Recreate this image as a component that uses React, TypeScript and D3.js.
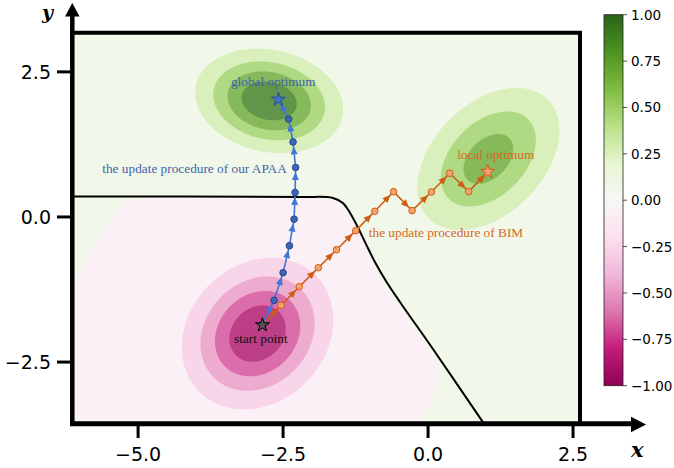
import React, { useRef, useEffect } from 'react';
import * as d3 from 'd3';

const W = 674;
const H = 468;

// gaussian bumps of the loss surface (data units)
const blobCx = [-2.74, 1.04, -2.94];
const blobCy = [2.0, 1.0, -2.01];
const blobAmp = [1.0, 0.7, -1.0];
const blobSigMajor = [0.72, 0.915, 0.79];
const blobSigMinor = [0.49, 0.6, 0.66];
const blobAngle = [-12, 45, 45];

const bandLevels = [0.2, 0.4, 0.6, 0.8];
const bandMids = [0.3, 0.5, 0.7, 0.9];

// the wide, faint negative region around the start point
const pinkX = [-6.35, -6.09, -5.78, -5.48, -5.19, -4.85, -1.69, -1.52, -1.38, -1.24, -1.07, -0.79, -0.48, -0.21, 0.03, 0.14, 0.155, 0.07, -0.14, -0.26, -6.35];
const pinkY = [-1.43, -1.09, -0.52, -0.05, 0.26, 0.31, 0.29, 0.22, 0.09, -0.16, -0.5, -1.12, -1.55, -1.95, -2.29, -2.5, -2.81, -3.16, -3.47, -3.67, -3.67];

// decision boundary
const boundX = [-6.3, -2.2, -1.64, -1.47, -1.345, -1.207, -1.074, -0.919, -0.729, -0.488, 0.081, 0.943, 1.2];
const boundY = [0.353, 0.345, 0.328, 0.241, 0.069, -0.185, -0.46, -0.771, -1.098, -1.46, -2.27, -3.53, -3.89];

// update trajectories
const apaaX = [-2.857, -2.655, -2.5, -2.391, -2.31, -2.293, -2.284, -2.328, -2.405, -2.581];
const apaaY = [-1.862, -1.436, -0.96, -0.495, -0.038, 0.422, 0.853, 1.293, 1.686, 2.026];
const bimX = [-2.857, -2.534, -2.221, -1.893, -1.578, -1.247, -0.919, -0.595, -0.276, 0.057, 0.374, 0.702, 1.029];
const bimY = [-1.862, -1.522, -1.202, -0.874, -0.564, -0.236, 0.098, 0.436, 0.109, 0.431, 0.753, 0.436, 0.781];

const xTicks = [-5.0, -2.5, 0.0, 2.5];
const yTicks = [-2.5, 0.0, 2.5];
const cbTicks = [-1, -0.75, -0.5, -0.25, 0, 0.25, 0.5, 0.75, 1];

const BLUE_LINE = "#4176d6";
const BLUE_DOT = "#3d65b8";
const BLUE_EDGE = "#27458a";
const BLUE_TEXT = "#4262ad";
const ORANGE_LINE = "#cf5c14";
const ORANGE_DOT = "#f2a470";
const ORANGE_TEXT = "#d2691e";

function bump(i, x, y) {
    const t = blobAngle[i] * Math.PI / 180;
    const dx = x - blobCx[i], dy = y - blobCy[i];
    const u = dx * Math.cos(t) + dy * Math.sin(t);
    const v = -dx * Math.sin(t) + dy * Math.cos(t);
    return blobAmp[i] * Math.exp(-0.5 * (u * u / (blobSigMajor[i] ** 2) + v * v / (blobSigMinor[i] ** 2)));
}

function App() {
    const svgRef = useRef(null);

    useEffect(() => {
        const svg = d3.select(svgRef.current);
        svg.selectAll("*").remove();

        const x = d3.scaleLinear().domain([-6.14, 2.62]).range([72, 580]);
        const y = d3.scaleLinear().domain([-3.55, 3.17]).range([423, 33]);

        const piyg = d3.scaleLinear()
            .domain(d3.range(11).map(i => -1 + i * 0.2))
            .range(d3.schemePiYG[11]);
        const fillAt = v => d3.interpolateRgb("#ffffff", piyg(v))(0.8);

        const defs = svg.append("defs");
        defs.append("clipPath").attr("id", "plotclip")
            .append("rect").attr("x", 72).attr("y", 33).attr("width", 508).attr("height", 390);

        const plot = svg.append("g").attr("clip-path", "url(#plotclip)");
        plot.append("rect").attr("x", 72).attr("y", 33).attr("width", 508).attr("height", 390)
            .attr("fill", fillAt(0.1));

        const closedLine = d3.line().x(d => x(d[0])).y(d => y(d[1])).curve(d3.curveCatmullRomClosed.alpha(0.5));
        plot.append("path")
            .attr("d", closedLine(pinkX.map((v, i) => [v, pinkY[i]])))
            .attr("fill", fillAt(-0.1));

        // contour bands
        const step = 2;
        const nx = Math.ceil(508 / step), ny = Math.ceil(390 / step);
        const pos = new Float64Array(nx * ny);
        const neg = new Float64Array(nx * ny);
        for (let j = 0; j < ny; j++) {
            for (let i = 0; i < nx; i++) {
                const xv = x.invert(72 + (i + 0.5) * step);
                const yv = y.invert(33 + (j + 0.5) * step);
                pos[j * nx + i] = bump(0, xv, yv) + bump(1, xv, yv);
                neg[j * nx + i] = -bump(2, xv, yv);
            }
        }
        const gp = d3.geoPath(d3.geoIdentity().scale(step).translate([72, 33]));
        const contours = d3.contours().size([nx, ny]).thresholds(bandLevels);

        contours(neg).forEach((c, k) => {
            plot.append("path").attr("d", gp(c)).attr("fill", fillAt(-bandMids[k]));
        });
        contours(pos).forEach((c, k) => {
            plot.append("path").attr("d", gp(c)).attr("fill", fillAt(bandMids[k]));
        });

        // decision boundary
        const openLine = d3.line().x(d => x(d[0])).y(d => y(d[1])).curve(d3.curveCatmullRom.alpha(0.5));
        plot.append("path")
            .attr("d", openLine(boundX.map((v, i) => [v, boundY[i]])))
            .attr("fill", "none").attr("stroke", "black").attr("stroke-width", 2);

        // trajectories
        function drawPath(xs, ys, lineColor, dotFill, dotEdge) {
            const pts = xs.map((v, i) => [x(v), y(ys[i])]);
            plot.append("path")
                .attr("d", d3.line()(pts))
                .attr("fill", "none").attr("stroke", lineColor).attr("stroke-width", 1.6);
            for (let i = 0; i < pts.length - 1; i++) {
                const [ax, ay] = pts[i], [bx, by] = pts[i + 1];
                const len = Math.hypot(bx - ax, by - ay);
                const ux = (bx - ax) / len, uy = (by - ay) / len;
                const tx = bx - ux * 4.5, ty = by - uy * 4.5;
                const sx = tx - ux * 8, sy = ty - uy * 8;
                plot.append("path")
                    .attr("d", `M${tx},${ty}L${sx - uy * 3.5},${sy + ux * 3.5}L${sx + uy * 3.5},${sy - ux * 3.5}Z`)
                    .attr("fill", lineColor);
            }
            pts.slice(1, -1).forEach(p => {
                plot.append("circle").attr("cx", p[0]).attr("cy", p[1]).attr("r", 3.3)
                    .attr("fill", dotFill).attr("stroke", dotEdge).attr("stroke-width", 1);
            });
            return pts;
        }
        const ap = drawPath(apaaX, apaaY, BLUE_LINE, BLUE_DOT, BLUE_EDGE);
        const bp = drawPath(bimX, bimY, ORANGE_LINE, ORANGE_DOT, ORANGE_LINE);

        const star = d3.symbol().type(d3.symbolStar).size(60);
        const stars = [
            [ap[ap.length - 1], "#4472c4", "#2a4d9c"],
            [bp[bp.length - 1], "#f7a27e", ORANGE_LINE],
            [ap[0], "#555555", "#000000"],
        ];
        stars.forEach(([p, f, s]) => {
            plot.append("path").attr("d", star())
                .attr("transform", `translate(${p[0]},${p[1]})`)
                .attr("fill", f).attr("stroke", s).attr("stroke-width", 1);
        });

        // annotations
        const notes = [
            ["global optimum", -2.67, 2.26, "middle", BLUE_TEXT],
            ["the update procedure of our APAA", -2.436, 0.764, "end", BLUE_TEXT],
            ["local optimum", 1.167, 1.005, "middle", ORANGE_TEXT],
            ["the update procedure of BIM", -1.022, -0.34, "start", ORANGE_TEXT],
            ["start point", -2.884, -2.167, "middle", "#111111"],
        ];
        notes.forEach(([t, nxv, nyv, anchor, col]) => {
            svg.append("text").attr("x", x(nxv)).attr("y", y(nyv))
                .attr("text-anchor", anchor).attr("fill", col)
                .style("font-family", "'Liberation Serif', 'Times New Roman', serif")
                .style("font-size", "13.3px")
                .text(t);
        });

        // frame and axes
        svg.append("line").attr("x1", 70).attr("x2", 582).attr("y1", 32.7).attr("y2", 32.7)
            .attr("stroke", "black").attr("stroke-width", 4);
        svg.append("line").attr("x1", 580).attr("x2", 580).attr("y1", 31).attr("y2", 425)
            .attr("stroke", "black").attr("stroke-width", 4);
        svg.append("line").attr("x1", 72.3).attr("x2", 72.3).attr("y1", 426).attr("y2", 14)
            .attr("stroke", "black").attr("stroke-width", 4.5);
        svg.append("path").attr("d", "M72.3,3L65,16.5L79.6,16.5Z").attr("fill", "black");
        svg.append("line").attr("x1", 70).attr("x2", 633).attr("y1", 423.7).attr("y2", 423.7)
            .attr("stroke", "black").attr("stroke-width", 5);
        svg.append("path").attr("d", "M646,424.5L631,416.8L631,432.2Z").attr("fill", "black");

        const tickFont = "'DejaVu Sans', sans-serif";
        const fmt1 = d3.format(".1f");
        xTicks.forEach(t => {
            svg.append("line").attr("x1", x(t)).attr("x2", x(t)).attr("y1", 426).attr("y2", 438)
                .attr("stroke", "black").attr("stroke-width", 3);
            svg.append("text").attr("x", x(t)).attr("y", 461).attr("text-anchor", "middle")
                .style("font-family", tickFont).style("font-size", "19px").text(fmt1(t));
        });
        yTicks.forEach(t => {
            svg.append("line").attr("x1", 57).attr("x2", 70).attr("y1", y(t)).attr("y2", y(t))
                .attr("stroke", "black").attr("stroke-width", 3);
            svg.append("text").attr("x", 51).attr("y", y(t) + 7).attr("text-anchor", "end")
                .style("font-family", tickFont).style("font-size", "19px").text(fmt1(t));
        });

        svg.append("text").attr("x", 42).attr("y", 19)
            .style("font-family", "'DejaVu Serif', serif").style("font-weight", "bold")
            .style("font-style", "italic").style("font-size", "19px").text("y");
        svg.append("text").attr("x", 631).attr("y", 457)
            .style("font-family", "'DejaVu Serif', serif").style("font-weight", "bold")
            .style("font-style", "italic").style("font-size", "21px").text("x");

        // colorbar
        const cb = d3.scaleLinear().domain([-1, 1]).range([385.7, 14.7]);
        const grad = defs.append("linearGradient").attr("id", "cbgrad")
            .attr("x1", 0).attr("x2", 0).attr("y1", 1).attr("y2", 0);
        d3.range(11).forEach(i => {
            grad.append("stop").attr("offset", i / 10).attr("stop-color", d3.schemePiYG[11][i]);
        });
        svg.append("rect").attr("x", 604).attr("y", cb(1)).attr("width", 19).attr("height", cb(-1) - cb(1))
            .attr("fill", "url(#cbgrad)").attr("stroke", "#222").attr("stroke-width", 0.8);
        const fmt2 = d3.format(".2f");
        cbTicks.forEach(t => {
            svg.append("line").attr("x1", 623).attr("x2", 627).attr("y1", cb(t)).attr("y2", cb(t))
                .attr("stroke", "#222").attr("stroke-width", 0.8);
            svg.append("text").attr("x", 631).attr("y", cb(t) + 5)
                .style("font-family", tickFont).style("font-size", "13.5px").text(fmt2(t));
        });
    }, []);

    return (
        <svg
            ref={svgRef}
            width={W}
            height={H}
            style={{ position: 'absolute', left: 0, top: 0, background: 'white' }}
        />
    );
}

export default App;
